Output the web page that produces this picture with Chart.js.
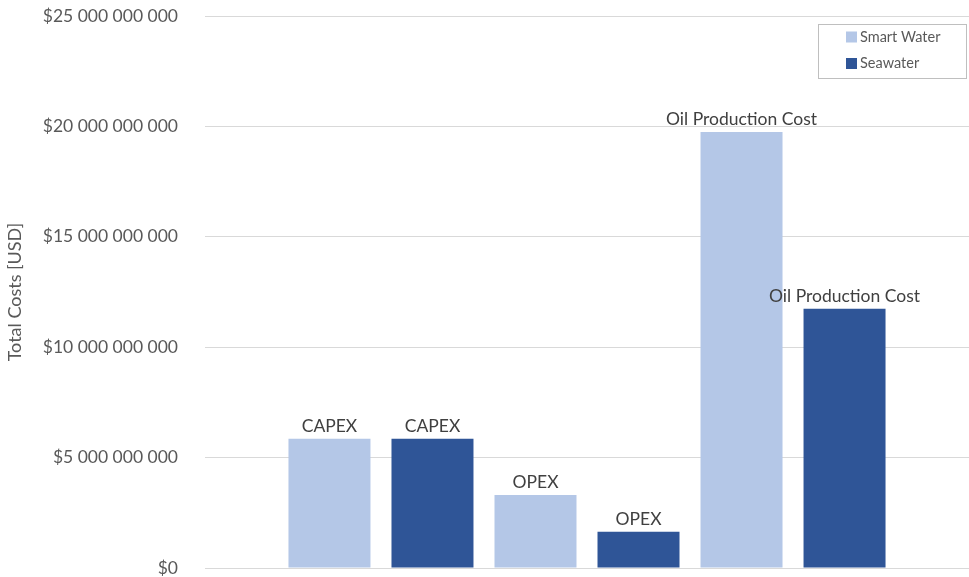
<!DOCTYPE html>
<html>
<head>
<meta charset="utf-8">
<script src="https://cdn.jsdelivr.net/npm/chart.js@4"></script>
<style>
    html, body { margin: 0; padding: 0; background: #ffffff; }
    #wrap { width: 969px; height: 577px; }
</style>
</head>
<body>
<div id="wrap"><canvas id="chartCanvas"></canvas></div>
<script>
// Bars in the order they appear, left to right
const barLabels = ['CAPEX', 'CAPEX', 'OPEX', 'OPEX', 'Oil Production Cost', 'Oil Production Cost'];
const barSeries = ['Smart Water', 'Seawater', 'Smart Water', 'Seawater', 'Smart Water', 'Seawater'];
const barValues = [5850000000, 5850000000, 3310000000, 1640000000, 19750000000, 11740000000];

const seriesNames = ['Smart Water', 'Seawater'];
const seriesColors = ['#B4C7E7', '#2F5597'];

const yTicks = [0, 5000000000, 10000000000, 15000000000, 20000000000, 25000000000];

const fontFamily = "Lato, 'Open Sans', sans-serif";

function formatUsd(value) {
    return '$' + String(Math.round(value)).replace(/\B(?=(\d{3})+(?!\d))/g, ' ');
}

// One dataset per bar so all six sit evenly in a single group
const datasets = barValues.map((v, i) => ({
    label: barLabels[i],
    series: barSeries[i],
    data: [v],
    backgroundColor: seriesColors[seriesNames.indexOf(barSeries[i])],
    borderWidth: 0,
    categoryPercentage: 0.809,
    barPercentage: 0.796,
}));

// Text above every bar
const barTextPlugin = {
    id: 'barText',
    afterDatasetsDraw(chart) {
        const ctx = chart.ctx;
        ctx.save();
        ctx.font = `17.5px ${fontFamily}`;
        ctx.fillStyle = '#404040';
        ctx.textAlign = 'center';
        ctx.textBaseline = 'bottom';
        chart.data.datasets.forEach((ds, i) => {
            const bar = chart.getDatasetMeta(i).data[0];
            ctx.fillText(ds.label, bar.x, bar.y - 4);
        });
        ctx.restore();
    }
};

// Boxed legend in the top right corner of the plot
const boxLegendPlugin = {
    id: 'boxLegend',
    afterDraw(chart) {
        const ctx = chart.ctx;
        const area = chart.chartArea;
        const w = 148, h = 54;
        const x = area.right - w - 3;
        const y = area.top + 8;
        ctx.save();
        ctx.fillStyle = '#ffffff';
        ctx.fillRect(x, y, w, h);
        ctx.strokeStyle = '#bfbfbf';
        ctx.lineWidth = 1;
        ctx.strokeRect(x + 0.5, y + 0.5, w, h);
        ctx.font = `14.5px ${fontFamily}`;
        ctx.textBaseline = 'middle';
        seriesNames.forEach((name, i) => {
            const cy = y + 13 + i * 26.5;
            ctx.fillStyle = seriesColors[i];
            ctx.fillRect(x + 28, cy - 5.5, 11, 11);
            ctx.fillStyle = '#595959';
            ctx.fillText(name, x + 42, cy);
        });
        ctx.restore();
    }
};

const ctx = document.getElementById('chartCanvas').getContext('2d');
new Chart(ctx, {
    type: 'bar',
    data: {
        labels: [''],
        datasets: datasets,
    },
    options: {
        responsive: true,
        maintainAspectRatio: false,
        animation: false,
        layout: { padding: { top: 16, right: 0, bottom: 9, left: 0 } },
        plugins: {
            legend: { display: false },
            tooltip: { enabled: false },
        },
        scales: {
            x: {
                display: false,
            },
            y: {
                min: 0,
                max: 25000000000,
                afterBuildTicks(scale) {
                    scale.ticks = yTicks.map(v => ({ value: v }));
                },
                afterFit(scale) {
                    scale.width = 205;
                    scale.paddingTop = 0;
                    scale.paddingBottom = 0;
                },
                ticks: {
                    callback: (value) => formatUsd(value),
                    color: '#595959',
                    font: { family: fontFamily, size: 17.5 },
                    padding: 27,
                },
                grid: {
                    color: '#d9d9d9',
                    drawTicks: false,
                },
                border: { display: false },
                title: {
                    display: true,
                    text: 'Total Costs [USD]',
                    color: '#595959',
                    font: { family: fontFamily, size: 18 },
                    padding: { top: 4, bottom: 0 },
                },
            },
        },
    },
    plugins: [barTextPlugin, boxLegendPlugin],
});
</script>
</body>
</html>
